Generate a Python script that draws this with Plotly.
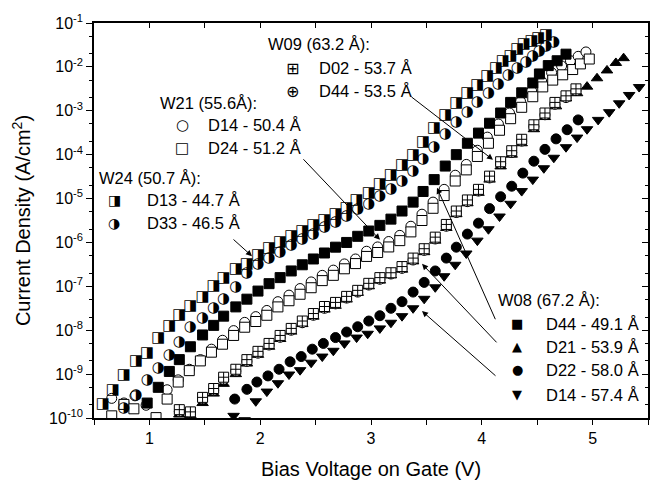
import plotly.graph_objects as go

# ---------------- data ----------------
# W24 D13 - 44.7 A (half-filled square)
v_w24_d13 = [0.58,0.67,0.77,0.88,0.98,1.08,1.18,1.27,1.37,1.48,1.58,1.67,1.78,1.88,1.98,2.08,2.18,2.28,2.38,2.48,2.58,2.68,2.78,2.87,2.98,3.08,3.18,3.28,3.38,3.47,3.57,3.67,3.77,3.87,3.96,4.05,4.13,4.19,4.26,4.32,4.38,4.45,4.51,4.58]
j_w24_d13 = [2.04e-10,4.37e-10,9.3e-10,1.95e-9,3.0e-9,6.5e-9,1.26e-8,2.14e-8,3.55e-8,5.75e-8,9.8e-8,1.51e-7,2.4e-7,3.24e-7,5.0e-7,7.4e-7,1.0e-6,1.38e-6,1.82e-6,2.51e-6,3.24e-6,4.47e-6,5.9e-6,9.1e-6,1.35e-5,2.09e-5,3.4e-5,5.75e-5,9.8e-5,1.9e-4,3.9e-4,7.9e-4,1.45e-3,2.45e-3,3.8e-3,6.0e-3,9.1e-3,1.35e-2,1.78e-2,2.51e-2,3.24e-2,3.9e-2,4.57e-2,5.4e-2]

# W24 D33 - 46.5 A (half-filled circle)
v_w24_d33 = [0.77,0.88,0.98,1.08,1.18,1.27,1.37,1.48,1.58,1.67,1.78,1.88,1.98,2.08,2.18,2.28,2.38,2.48,2.58,2.68,2.78,2.88,2.98,3.08,3.18,3.28,3.38,3.47,3.57,3.67,3.77,3.87,3.96,4.06,4.15,4.24,4.32,4.40,4.46,4.52,4.58,4.65]
j_w24_d33 = [1.7e-10,3.3e-10,7.1e-10,1.38e-9,2.75e-9,5.4e-9,1.15e-8,1.9e-8,3.16e-8,5.2e-8,9.5e-8,1.95e-7,3.16e-7,4.4e-7,6.0e-7,8.7e-7,1.17e-6,1.55e-6,2.19e-6,2.95e-6,3.98e-6,5.6e-6,7.6e-6,1.15e-5,1.62e-5,2.51e-5,4.2e-5,7.9e-5,1.48e-4,2.9e-4,5.5e-4,9.3e-4,1.58e-3,2.57e-3,3.98e-3,6.5e-3,9.1e-3,1.29e-2,1.78e-2,2.29e-2,2.88e-2,3.63e-2]

# W21 D14 - 50.4 A (open circle)
v_w21_d14 = [0.66,0.77,0.87,0.97,1.16,1.26,1.36,1.46,1.56,1.66,1.76,1.86,1.96,2.06,2.16,2.26,2.36,2.46,2.56,2.66,2.76,2.86,2.96,3.06,3.16,3.26,3.36,3.46,3.56,3.66,3.76,3.86,3.96,4.05,4.15,4.25,4.35,4.45,4.54,4.63,4.72,4.80,4.87,4.94]
j_w21_d14 = [2.8e-10,2.2e-10,3.2e-10,1.95e-10,4.4e-10,7.4e-10,1.29e-9,2.14e-9,3.7e-9,5.9e-9,9.8e-9,1.51e-8,2.04e-8,2.82e-8,4.47e-8,6.3e-8,8.9e-8,1.26e-7,1.78e-7,2.34e-7,3.24e-7,4.2e-7,6.3e-7,7.9e-7,1.05e-6,1.45e-6,2.34e-6,4.4e-6,8.3e-6,1.62e-5,3.4e-5,6.0e-5,1.26e-4,2.51e-4,5.0e-4,8.9e-4,1.62e-3,2.82e-3,4.7e-3,7.4e-3,1.05e-2,1.38e-2,1.74e-2,2.19e-2]

# W21 D24 - 51.2 A (open square)
v_w21_d24 = [0.66,0.77,0.86,1.06,1.16,1.26,1.36,1.46,1.56,1.66,1.76,1.86,1.96,2.06,2.16,2.26,2.36,2.46,2.56,2.66,2.76,2.86,2.96,3.06,3.16,3.26,3.36,3.46,3.56,3.66,3.76,3.86,3.96,4.06,4.16,4.26,4.36,4.46,4.55,4.64,4.73,4.82,4.89,4.97]
j_w21_d24 = [1.12e-10,2.04e-10,1.62e-10,1.02e-10,2.7e-10,6.6e-10,1.2e-9,2.0e-9,3.16e-9,4.8e-9,7.6e-9,1.17e-8,1.58e-8,2.19e-8,3.4e-8,4.7e-8,6.6e-8,9.3e-8,1.35e-7,1.78e-7,2.51e-7,3.3e-7,4.8e-7,5.9e-7,7.9e-7,1.1e-6,1.74e-6,3.16e-6,6.0e-6,1.17e-5,2.51e-5,4.5e-5,9.1e-5,1.82e-4,3.6e-4,6.6e-4,1.2e-3,2.09e-3,3.5e-3,5.0e-3,6.6e-3,8.7e-3,1.17e-2,1.51e-2]

# W09 D02 - 53.7 A (square with cross)
v_w09_d02 = [1.27,1.37,1.48,1.58,1.67,1.78,1.88,1.98,2.08,2.18,2.28,2.38,2.48,2.58,2.68,2.78,2.88,2.98,3.08,3.18,3.28,3.38,3.48,3.58,3.68,3.77,3.87,3.97,4.07,4.17,4.27,4.36,4.47,4.57,4.66,4.76,4.85]
j_w09_d02 = [1.55e-10,1.38e-10,2.95e-10,4.7e-10,8.5e-10,1.29e-9,2.14e-9,3.3e-9,5.0e-9,7.6e-9,1.1e-8,1.62e-8,2.4e-8,3.47e-8,4.3e-8,5.9e-8,8.1e-8,1.17e-7,1.58e-7,2.04e-7,2.82e-7,4.4e-7,7.2e-7,1.32e-6,2.57e-6,5.2e-6,9.3e-6,1.62e-5,3.24e-5,6.9e-5,1.23e-4,2.24e-4,4.8e-4,8.9e-4,1.55e-3,2.19e-3,3.16e-3]

# W09 D44 - 53.5 A (circle with cross)
v_w09_d44 = [1.27,1.37,1.48,1.58,1.67,1.78,1.88,1.98,2.08,2.18,2.28,2.38,2.48,2.58,2.68,2.78,2.88,2.98,3.08,3.18,3.28,3.38,3.48,3.58,3.68,3.77,3.87,3.97,4.07,4.17,4.27,4.36,4.47,4.57,4.66,4.76,4.85]
j_w09_d44 = [1.41e-10,1.32e-10,2.7e-10,4.3e-10,7.6e-10,1.17e-9,1.95e-9,3.0e-9,4.6e-9,6.9e-9,1.0e-8,1.48e-8,2.19e-8,3.16e-8,3.98e-8,5.4e-8,7.4e-8,1.07e-7,1.45e-7,1.91e-7,2.57e-7,3.98e-7,6.6e-7,1.2e-6,2.34e-6,4.8e-6,8.5e-6,1.48e-5,2.95e-5,6.3e-5,1.12e-4,2.04e-4,4.4e-4,8.1e-4,1.41e-3,2.0e-3,2.88e-3]

# W08 D44 - 49.1 A (filled square)
v_w08_d44 = [0.98,1.08,1.18,1.27,1.37,1.48,1.58,1.67,1.78,1.88,1.98,2.08,2.18,2.28,2.38,2.48,2.58,2.68,2.78,2.88,2.98,3.08,3.18,3.28,3.38,3.47,3.57,3.67,3.77,3.87,3.97,4.07,4.17,4.26,4.36,4.46,4.52,4.60,4.68,4.76]
j_w08_d44 = [2.19e-10,5.0e-10,1.15e-9,2.14e-9,4.2e-9,7.8e-9,1.29e-8,2.09e-8,3.4e-8,5.1e-8,7.8e-8,1.15e-7,1.58e-7,2.24e-7,3.1e-7,4.2e-7,5.75e-7,7.8e-7,1.0e-6,1.38e-6,1.82e-6,2.45e-6,3.4e-6,5.2e-6,8.3e-6,1.45e-5,2.7e-5,5.5e-5,1.0e-4,1.82e-4,3.1e-4,5.2e-4,8.9e-4,1.55e-3,2.57e-3,4.3e-3,6.9e-3,1.07e-2,1.38e-2,1.95e-2]

# W08 D21 - 53.9 A (triangle up)
v_w08_d21 = [1.27,1.37,1.48,1.58,1.67,1.78,1.88,1.98,2.08,2.18,2.28,2.38,2.48,2.58,2.68,2.78,2.88,2.98,3.08,3.18,3.28,3.38,3.48,3.58,3.68,3.77,3.87,3.97,4.07,4.17,4.27,4.36,4.47,4.57,4.67,4.76,4.86,4.95,5.04,5.13,5.21,5.28]
j_w08_d21 = [1.2e-10,1.15e-10,2.19e-10,3.6e-10,6.0e-10,1.0e-9,1.74e-9,2.75e-9,4.2e-9,6.3e-9,9.3e-9,1.38e-8,2.04e-8,2.95e-8,3.6e-8,5.0e-8,7.1e-8,1.0e-7,1.35e-7,1.78e-7,2.4e-7,3.7e-7,6.0e-7,1.1e-6,2.14e-6,4.4e-6,7.8e-6,1.35e-5,2.7e-5,5.4e-5,1.0e-4,1.82e-4,3.8e-4,7.2e-4,1.26e-3,1.91e-3,2.51e-3,3.55e-3,5.5e-3,8.3e-3,1.23e-2,1.58e-2]

# W08 D22 - 58.0 A (filled circle)
v_w08_d22 = [1.77,1.88,1.97,2.07,2.17,2.27,2.37,2.47,2.57,2.68,2.78,2.88,2.98,3.08,3.18,3.28,3.38,3.48,3.58,3.68,3.77,3.87,3.97,4.07,4.17,4.27,4.37,4.47,4.57,4.67,4.77,4.87]
j_w08_d22 = [2.7e-10,4.5e-10,6.6e-10,9.1e-10,1.29e-9,1.91e-9,2.51e-9,3.7e-9,5.0e-9,6.8e-9,9.1e-9,1.2e-8,1.62e-8,2.14e-8,3.16e-8,4.47e-8,7.4e-8,1.23e-7,2.24e-7,4.4e-7,7.8e-7,1.55e-6,2.75e-6,5.9e-6,1.1e-5,1.91e-5,3.8e-5,7.1e-5,1.32e-4,2.29e-4,3.7e-4,6.2e-4]

# W08 D14 - 57.4 A (triangle down)
v_w08_d14 = [1.76,1.86,1.96,2.06,2.16,2.26,2.36,2.46,2.56,2.66,2.76,2.87,2.97,3.08,3.18,3.28,3.38,3.48,3.58,3.66,3.76,3.86,3.96,4.06,4.16,4.26,4.36,4.46,4.56,4.65,4.76,4.86,4.95,5.05,5.15,5.24,5.33,5.42]
j_w08_d14 = [1.12e-10,8.9e-11,2.4e-10,4.0e-10,6.2e-10,9.8e-10,1.23e-9,1.82e-9,2.51e-9,3.4e-9,5.0e-9,6.8e-9,8.3e-9,1.1e-8,1.48e-8,2.09e-8,3.16e-8,5.2e-8,9.5e-8,1.7e-7,3.1e-7,5.6e-7,1.1e-6,2.0e-6,3.9e-6,7.6e-6,1.48e-5,2.7e-5,4.9e-5,8.5e-5,1.48e-4,2.45e-4,3.8e-4,6.2e-4,9.3e-4,1.48e-3,2.29e-3,3.47e-3]

x_tick_vals = [0.5,1,1.5,2,2.5,3,3.5,4,4.5,5,5.5]
x_tick_text = ["","1","","2","","3","","4","","5",""]
y_tick_vals = [1e-10,1e-9,1e-8,1e-7,1e-6,1e-5,1e-4,1e-3,1e-2,1e-1]
y_tick_text = ["10<sup>-10</sup>","10<sup>-9</sup>","10<sup>-8</sup>","10<sup>-7</sup>","10<sup>-6</sup>",
               "10<sup>-5</sup>","10<sup>-4</sup>","10<sup>-3</sup>","10<sup>-2</sup>","10<sup>-1</sup>"]

# ---------------- figure ----------------
W, H = 672, 489
L, R, T, B = 94, 24, 13, 66
PX0, PX1, PY0, PY1 = L, W - R, T, H - B
FONT = "Liberation Sans, Arial, sans-serif"
GLYPH = "DejaVu Sans"

def px2paper(px, py):
    return (px - PX0) / (PX1 - PX0), 1 - (py - PY0) / (PY1 - PY0)

fig = go.Figure()
ms = 10
line_b = dict(color="black", width=1)

def mk(x, y, symbol, color, name):
    fig.add_trace(go.Scatter(x=x, y=y, mode="markers", name=name, showlegend=False,
                             marker=dict(symbol=symbol, size=ms, color=color, line=line_b),
                             cliponaxis=True))

def txt(x, y, glyph, name, size=15):
    fig.add_trace(go.Scatter(x=x, y=y, mode="text", name=name, showlegend=False,
                             text=[glyph] * len(x), textposition="middle center",
                             textfont=dict(family=GLYPH, size=size, color="black"),
                             cliponaxis=True))

mk(v_w08_d22, j_w08_d22, "circle", "black", "W08 D22")
mk(v_w08_d14, j_w08_d14, "triangle-down", "black", "W08 D14")
mk(v_w08_d21, j_w08_d21, "triangle-up", "black", "W08 D21")
mk(v_w09_d44, j_w09_d44, "circle-cross", "white", "W09 D44")
mk(v_w09_d02, j_w09_d02, "square-cross", "white", "W09 D02")
mk(v_w21_d14, j_w21_d14, "circle", "white", "W21 D14")
mk(v_w21_d24, j_w21_d24, "square", "white", "W21 D24")
mk(v_w08_d44, j_w08_d44, "square", "black", "W08 D44")
txt(v_w24_d33, j_w24_d33, "\u25D1", "W24 D33")
txt(v_w24_d13, j_w24_d13, "\u25E8", "W24 D13")

# dummy trace for mirrored axes
fig.add_trace(go.Scatter(x=[None], y=[None], xaxis="x2", yaxis="y2", showlegend=False))

axis_common = dict(showline=True, linecolor="black", linewidth=1.5, showgrid=False, zeroline=False,
                   tickcolor="black", tickwidth=1, tickfont=dict(family=FONT, size=16, color="black"))

fig.update_layout(
    width=W, height=H, margin=dict(l=L, r=R, t=T, b=B),
    paper_bgcolor="white", plot_bgcolor="white", showlegend=False,
    xaxis=dict(range=[0.5, 5.5], tickvals=x_tick_vals, ticktext=x_tick_text, ticks="outside", ticklen=5,
               title=dict(text="Bias Voltage on Gate (V)", font=dict(family=FONT, size=20, color="black"), standoff=16),
               **axis_common),
    xaxis2=dict(range=[0.5, 5.5], overlaying="x", side="top", matches="x", tickvals=x_tick_vals,
                showticklabels=False, ticks="inside", ticklen=5, **axis_common),
    yaxis=dict(type="log", range=[-10, -1], tickvals=y_tick_vals, ticktext=y_tick_text, ticks="outside", ticklen=6,
               minor=dict(ticks="outside", ticklen=3, tickcolor="black", showgrid=False),
               title=dict(text="Current Density (A/cm<sup>2</sup>)", font=dict(family=FONT, size=20, color="black"), standoff=13),
               **axis_common),
    yaxis2=dict(type="log", range=[-10, -1], overlaying="y", side="right", matches="y", tickvals=y_tick_vals,
                showticklabels=False, ticks="inside", ticklen=6,
                minor=dict(ticks="inside", ticklen=3, tickcolor="black", showgrid=False),
                **axis_common),
)

# ---------------- in-plot legend text ----------------
annots = []
def label(px, py, text):
    x, y = px2paper(px, py)
    annots.append(dict(x=x, y=y, xref="paper", yref="paper", text=text, showarrow=False,
                       xanchor="left", yanchor="middle", font=dict(family=FONT, size=16.5, color="black")))

def key(px, py, glyph, size=13):
    x, y = px2paper(px, py)
    annots.append(dict(x=x, y=y, xref="paper", yref="paper", text=glyph, showarrow=False,
                       xanchor="center", yanchor="middle", font=dict(family=GLYPH, size=size, color="black")))

label(266, 35, "W09 (63.2 Å):")
key(292, 60, "\u229E", 16); label(317, 60, "D02 - 53.7 Å")
key(292, 84, "\u2295", 16); label(317, 84, "D44 - 53.5 Å")
label(158, 96, "W21 (55.6Å):")
key(182, 119, "\u25CB", 15); label(206, 119, "D14 - 50.4 Å")
key(182, 143, "\u25A1", 15); label(206, 143, "D24 - 51.2 Å")
label(97, 174, "W24 (50.7 Å):")
key(114, 197, "\u25E8", 14); label(145, 197, "D13 - 44.7 Å")
key(114, 221, "\u25D1", 14); label(145, 221, "D33 - 46.5 Å")
label(496, 300, "W08 (67.2 Å):")
key(517, 325, "\u25A0", 13); label(544, 325, "D44 - 49.1 Å")
key(517, 349, "\u25B2", 13); label(544, 349, "D21 - 53.9 Å")
key(517, 373, "\u25CF", 13); label(544, 373, "D22 - 58.0 Å")
key(517, 399, "\u25BC", 13); label(544, 399, "D14 - 57.4 Å")

def arrow(tipx, tipy, tailx, taily):
    x, y = px2paper(tipx, tipy)
    annots.append(dict(x=x, y=y, xref="paper", yref="paper", text="", showarrow=True,
                       ax=tailx - tipx, ay=taily - tipy, axref="pixel", ayref="pixel",
                       arrowhead=2, arrowsize=1.2, arrowwidth=1, arrowcolor="black",
                       standoff=0, startstandoff=0))

arrow(493, 155, 410, 91)
arrow(380, 238, 302, 156)
arrow(252, 255, 232, 237)
arrow(437, 184, 496, 317)
arrow(422, 263, 498, 343)
arrow(422, 312, 497, 378)

fig.update_layout(annotations=annots)
fig.write_html("out.html")
